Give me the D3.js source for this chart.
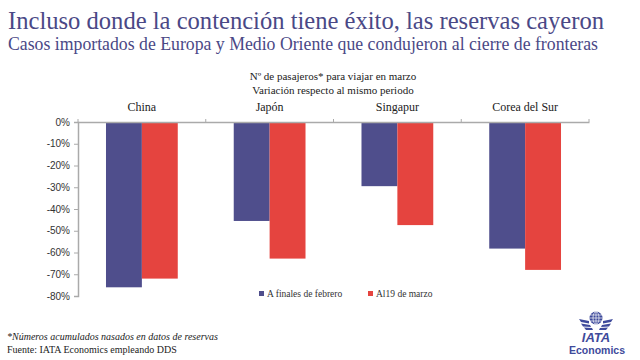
<!DOCTYPE html>
<html><head><meta charset="utf-8">
<script src="https://cdn.jsdelivr.net/npm/d3@7"></script>
<style>body{margin:0;background:#fff}svg{display:block}</style>
</head><body>
<script>
const categories = ["China", "Japón", "Singapur", "Corea del Sur"];
const seriesNames = ["A finales de febrero", "Al19 de marzo"];
const febValues = [-76, -45.5, -29.5, -58.2];
const marValues = [-72, -62.8, -47.4, -68];
const yTicks = [0, -10, -20, -30, -40, -50, -60, -70, -80];
const colors = ["#4f4e8c", "#e5443f"];
const titleText = "Incluso donde la contención tiene éxito, las reservas cayeron";
const subtitleText = "Casos importados de Europa y Medio Oriente que condujeron al cierre de fronteras";
const chartTitle = ["Nº de pasajeros* para viajar en marzo", "Variación respecto al mismo periodo"];
const notes = ["*Números acumulados nasados en datos de reservas", "Fuente: IATA Economics empleando DDS"];

const W = 640, H = 360;
const svg = d3.select("body").append("svg").attr("width", W).attr("height", H);
const serif = '"Liberation Serif", "Times New Roman", serif';
const sans = '"Liberation Sans", Arial, sans-serif';
const purple = "#4a4886";

svg.append("text").attr("x", 8).attr("y", 29).style("font-family", serif).attr("font-size", 25)
  .attr("fill", purple).attr("textLength", 596).attr("lengthAdjust", "spacingAndGlyphs").text(titleText);
svg.append("text").attr("x", 8).attr("y", 50).style("font-family", serif).attr("font-size", 18)
  .attr("fill", purple).attr("textLength", 590).attr("lengthAdjust", "spacingAndGlyphs").text(subtitleText);

chartTitle.forEach((t, i) => {
  svg.append("text").attr("x", 333).attr("y", 80 + i * 14).attr("text-anchor", "middle")
    .style("font-family", serif).attr("font-size", 11).attr("fill", "#222").text(t);
});

const x0 = d3.scaleBand().domain(categories).range([78, 589]).paddingInner(0).paddingOuter(0);
const x1 = d3.scaleBand().domain(seriesNames).range([0, x0.bandwidth()]).paddingOuter(0.78).paddingInner(0);
const y = d3.scaleLinear().domain([-80, 0]).range([296, 122]);

// y axis
const yAxis = d3.axisLeft(y).tickValues(yTicks).tickFormat(d => d + "%").tickSize(4).tickPadding(4);
const gy = svg.append("g").attr("transform", "translate(78,0)").call(yAxis);
gy.select(".domain").attr("stroke", "#aaa").attr("stroke-width", 1.5);
gy.selectAll(".tick line").attr("stroke", "#aaa");
gy.selectAll(".tick text").style("font-family", sans).attr("font-size", 10).attr("fill", "#333");

// bars
const data = categories.map((c, i) => ({c, vals: [febValues[i], marValues[i]]}));
const g = svg.append("g");
data.forEach(d => {
  d.vals.forEach((v, j) => {
    g.append("rect").attr("x", x0(d.c) + x1(seriesNames[j])).attr("width", x1.bandwidth())
      .attr("y", y(0)).attr("height", y(v) - y(0)).attr("fill", colors[j]);
  });
});

// x axis at zero (top)
const xAxis = d3.axisTop(x0).tickSize(0).tickFormat("");
const gx = svg.append("g").attr("transform", `translate(0,${y(0)})`).call(xAxis);
gx.select(".domain").attr("stroke", "#aaa").attr("stroke-width", 1.5);
const boundaries = categories.map(c => x0(c)).concat([x0.range()[1]]);
boundaries.forEach(b => {
  svg.append("line").attr("x1", b).attr("x2", b).attr("y1", y(0) - 3).attr("y2", y(0)).attr("stroke", "#aaa");
});
categories.forEach(c => {
  svg.append("text").attr("x", x0(c) + x0.bandwidth() / 2).attr("y", 111).attr("text-anchor", "middle")
    .style("font-family", serif).attr("font-size", 12).attr("fill", "#222").text(c);
});

// legend
const legX = [259, 368];
seriesNames.forEach((s, j) => {
  svg.append("rect").attr("x", legX[j]).attr("y", 291).attr("width", 5).attr("height", 5).attr("fill", colors[j]);
  svg.append("text").attr("x", legX[j] + 8).attr("y", 297).style("font-family", serif).attr("font-size", 9.5)
    .attr("fill", "#333").text(s);
});

// notes
svg.append("text").attr("x", 7).attr("y", 340).style("font-family", serif).attr("font-size", 10)
  .attr("font-style", "italic").attr("fill", "#222").text(notes[0]);
svg.append("text").attr("x", 7).attr("y", 353).style("font-family", serif).attr("font-size", 10)
  .attr("fill", "#222").text(notes[1]);

// IATA logo
const logo = svg.append("g").attr("fill", "#3e4a9b");
const cx = 596, cy = 318;
logo.append("circle").attr("cx", cx).attr("cy", cy).attr("r", 6.5);
const gl = svg.append("g").attr("stroke", "#fff").attr("stroke-width", 0.7).attr("fill", "none");
gl.append("ellipse").attr("cx", cx).attr("cy", cy).attr("rx", 3).attr("ry", 6.3);
gl.append("line").attr("x1", cx).attr("x2", cx).attr("y1", cy - 6.5).attr("y2", cy + 6.5);
gl.append("line").attr("x1", cx - 6.5).attr("x2", cx + 6.5).attr("y1", cy).attr("y2", cy);
gl.append("line").attr("x1", cx - 6).attr("x2", cx + 6).attr("y1", cy - 3).attr("y2", cy - 3);
gl.append("line").attr("x1", cx - 6).attr("x2", cx + 6).attr("y1", cy + 3).attr("y2", cy + 3);
[-1, 1].forEach(s => {
  logo.append("path").attr("d", `M${cx + s*7},${cy + 3} L${cx + s*17},${cy + 1} L${cx + s*15},${cy + 4} L${cx + s*7},${cy + 5.5} Z`);
  logo.append("path").attr("d", `M${cx + s*6},${cy + 7} L${cx + s*15},${cy + 5.5} L${cx + s*13},${cy + 8.5} L${cx + s*5},${cy + 9} Z`);
  logo.append("path").attr("d", `M${cx + s*4},${cy + 10} L${cx + s*12},${cy + 9.5} L${cx + s*10},${cy + 12} L${cx + s*3},${cy + 12} Z`);
});
logo.append("text").attr("x", cx).attr("y", cy + 24).attr("text-anchor", "middle")
  .style("font-family", sans).attr("font-weight", "bold").attr("font-style", "italic")
  .attr("font-size", 13).text("IATA");
logo.append("text").attr("x", cx + 1).attr("y", cy + 36).attr("text-anchor", "middle")
  .style("font-family", sans).attr("font-weight", "bold")
  .attr("font-size", 10.5).text("Economics");
</script>
</body></html>
